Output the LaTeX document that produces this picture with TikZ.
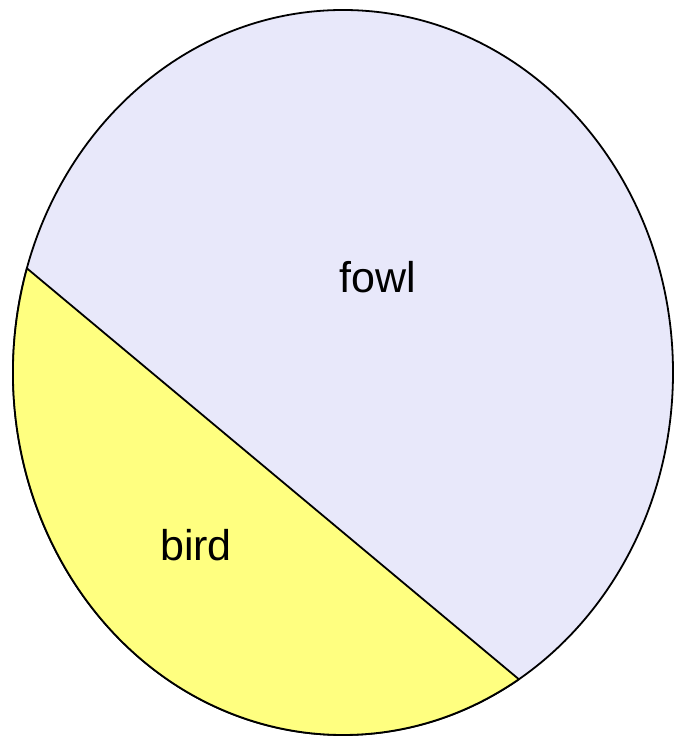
\documentclass[tikz,border=0pt]{standalone}
\usepackage{fontspec}
\setmainfont{Liberation Sans}
\definecolor{fowlc}{RGB}{232,232,250}
\definecolor{birdc}{RGB}{255,255,128}
\tikzset{
  slice/.style={draw=black, line width=1.8pt, line join=round},
  lbl/.style={anchor=base, inner sep=0pt, font=\fontsize{43}{43}\selectfont}
}
\begin{document}
\begin{tikzpicture}[x=1pt,y=1pt]
\useasboundingbox (0,0) rectangle (674,-738);
\fill[white] (0,0) rectangle (674,-738);
\coordinate (c) at (343,-372.5);
\filldraw[slice, fill=fowlc] (c) ellipse [x radius=330, y radius=362.5];
\filldraw[slice, fill=birdc] (c) ++(163.3:330 and 362.5) arc[start angle=163.3, end angle=302.2, x radius=330, y radius=362.5] -- cycle;
\node[lbl] (fowl) at (378,-292) {fowl};
\node[lbl] (bird) at (196,-560) {bird};
\end{tikzpicture}
\end{document}
